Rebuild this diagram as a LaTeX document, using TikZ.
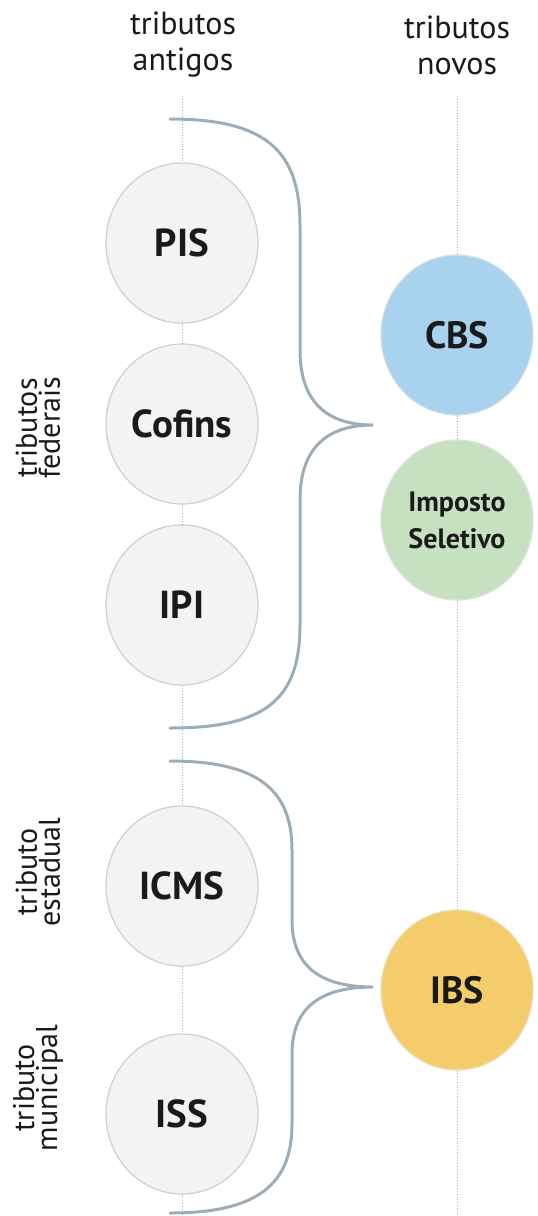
\documentclass[tikz,border=0pt]{standalone}
\usepackage{fontspec}
\setmainfont{PT Sans}
\usetikzlibrary{shapes.geometric}

\definecolor{oldfill}{HTML}{F3F3F3}
\definecolor{olddraw}{HTML}{CFCFCF}
\definecolor{cbsblue}{HTML}{A8D2EE}
\definecolor{isgreen}{HTML}{C6E1BF}
\definecolor{ibsyellow}{HTML}{F4CC6B}
\definecolor{bracegray}{HTML}{9DADB8}
\definecolor{guidegray}{HTML}{A8A8A8}
\definecolor{inkdark}{HTML}{1A1A1A}

\tikzset{
  tax/.style={ellipse, minimum width=152pt, minimum height=160pt, inner sep=0pt,
    draw=olddraw, line width=1.2pt, fill=oldfill, text=inkdark,
    font=\fontsize{39}{42}\selectfont\bfseries},
  guide/.style={guidegray, line width=0.8pt, dotted},
  bracket/.style={bracegray, line width=3pt, line cap=round},
  header/.style={align=center, text=inkdark, font=\fontsize{32}{36}\selectfont},
  sidelabel/.style={align=center, rotate=90, text=inkdark, font=\fontsize{30}{23}\selectfont}
}

\begin{document}
\begin{tikzpicture}[x=1pt,y=-1pt]
  \useasboundingbox (0,0) rectangle (538,1216);

  % column headers
  \node[header] (hold) at (183,45) {tributos\\antigos};
  \node[header] (hnew) at (457,45) {tributos\\novos};

  % side labels
  \node[sidelabel] (lfed) at (38,428) {tributos\\federais};
  \node[sidelabel] (lest) at (38,872) {tributo\\estadual};
  \node[sidelabel] (lmun) at (38,1088) {tributo\\municipal};

  % old taxes
  \node[tax] (pis) at (182,243) {PIS};
  \node[tax] (cofins) at (182,424) {Cofins};
  \node[tax] (ipi) at (182,605) {IPI};
  \node[tax] (icms) at (182,886) {ICMS};
  \node[tax] (iss) at (182,1114) {ISS};

  % new taxes
  \node[tax, fill=cbsblue, draw=cbsblue!85!black!40,
    font=\fontsize{38}{42}\selectfont\bfseries] (cbs) at (457,335) {CBS};
  \node[tax, fill=isgreen, draw=isgreen!85!black!40,
    font=\fontsize{28}{37}\selectfont\bfseries, align=center] (seletivo) at (457,520) {Imposto\\Seletivo};
  \node[tax, fill=ibsyellow, draw=ibsyellow!85!black!40,
    font=\fontsize{38}{42}\selectfont\bfseries] (ibs) at (457,990) {IBS};

  % guide lines
  \coordinate (topL) at (182,96);
  \coordinate (botL) at (182,1216);
  \coordinate (topR) at (457,96);
  \coordinate (botR) at (457,1216);
  \draw[guide] (topL) -- (pis) -- (cofins) -- (ipi) -- (icms) -- (iss) -- (botL);
  \draw[guide] (topR) -- (cbs) -- (seletivo) -- (ibs) -- (botR);

  % braces
  \coordinate (fedtop) at (170,119);
  \coordinate (fedtip) at (373,425);
  \coordinate (fedbot) at (170,728);
  \coordinate (ibstop) at (170,761);
  \coordinate (ibstip) at (373,987);
  \coordinate (ibsbot) at (170,1213);
  \draw[bracket] (fedtop) .. controls (265,119) and (300,150) .. (300,225)
    -- (300,350) .. controls (300,405) and (330,425) .. (fedtip)
    .. controls (330,425) and (300,445) .. (300,500)
    -- (300,625) .. controls (300,700) and (265,728) .. (fedbot);
  \draw[bracket] (ibstop) .. controls (258,761) and (292,790) .. (292,850)
    -- (292,920) .. controls (292,970) and (325,987) .. (ibstip)
    .. controls (325,987) and (292,1004) .. (292,1054)
    -- (292,1124) .. controls (292,1184) and (258,1213) .. (ibsbot);
\end{tikzpicture}
\end{document}
